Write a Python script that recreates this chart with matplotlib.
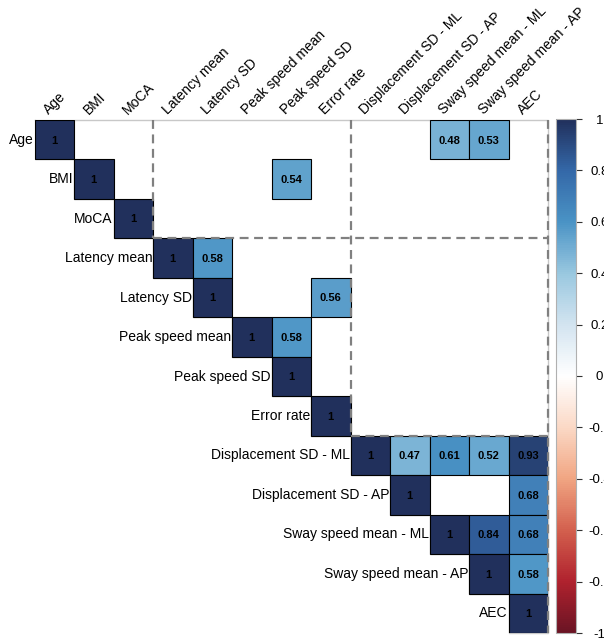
import numpy as np
import matplotlib
matplotlib.use("Agg")
import matplotlib.pyplot as plt
from matplotlib.colors import LinearSegmentedColormap, Normalize
from matplotlib.patches import Rectangle
from matplotlib.cm import ScalarMappable

plt.rcParams['font.family'] = ['Liberation Sans', 'DejaVu Sans']

labels = ["Age", "BMI", "MoCA", "Latency mean", "Latency SD", "Peak speed mean",
          "Peak speed SD", "Error rate", "Displacement SD - ML", "Displacement SD - AP",
          "Sway speed mean - ML", "Sway speed mean - AP", "AEC"]

# significant correlations in the upper triangle (row, col, r)
sig_rows = [0, 0, 1, 3, 4, 5, 8, 8, 8, 8, 9, 10, 10, 11]
sig_cols = [10, 11, 6, 4, 7, 6, 9, 10, 11, 12, 12, 11, 12, 12]
sig_vals = [0.48, 0.53, 0.54, 0.58, 0.56, 0.58, 0.47, 0.61, 0.52, 0.93, 0.68, 0.84, 0.68, 0.58]

# cluster boundaries (number of variables in each block)
blocks = [3, 5, 5]

cbar_ticks = [-1, -0.8, -0.6, -0.4, -0.2, 0, 0.2, 0.4, 0.6, 0.8, 1]

n = len(labels)
mat = np.full((n, n), np.nan)
for i in range(n):
    mat[i, i] = 1.0
for r, c, v in zip(sig_rows, sig_cols, sig_vals):
    mat[r, c] = v

# RdBu-like ramp, matched to the rendered tones of the reference
cmap = LinearSegmentedColormap.from_list(
    "rdbu", ["#6B1424", "#B0222E", "#D3604E", "#F1A683", "#FBD9C6", "#FFFFFF",
             "#D3E4F0", "#9AC8E0", "#4A93C5", "#3468A8", "#21305C"], N=256)
norm = Normalize(-1, 1)

W, H = 604, 639
fig = plt.figure(figsize=(W / 100, H / 100), dpi=100)
ax = fig.add_axes([34.5 / W, 6 / H, 513.5 / W, 513 / H])
ax.set_xlim(0, n)
ax.set_ylim(n, 0)
ax.axis("off")

# outline of the upper triangle
stair_x = [0, n, n]
stair_y = [0, 0, n]
for k in range(n, 0, -1):
    stair_x += [k - 1, k - 1]
    stair_y += [k, k - 1]
ax.plot(stair_x, stair_y, color="#c8c8c8", lw=1, zorder=1, clip_on=False)

for i in range(n):
    for j in range(i, n):
        v = mat[i, j]
        if np.isnan(v):
            continue
        ax.add_patch(Rectangle((j, i), 1, 1, facecolor=cmap(norm(v)),
                               edgecolor="black", lw=0.8, zorder=2))
        txt = "1" if v == 1 else f"{v:.2f}"
        ax.text(j + 0.5, i + 0.52, txt, ha="center", va="center",
                fontsize=8, fontweight="bold", color="black", zorder=3)

# row labels next to the diagonal, column labels on top
for i, lab in enumerate(labels):
    ax.text(i - 0.02, i + 0.5, lab, ha="right", va="center", fontsize=10)
    ax.text(i + 0.42, -0.07, lab, ha="left", va="bottom", rotation=45,
            rotation_mode="anchor", fontsize=10)

# dashed cluster rectangles
edges = np.cumsum([0] + blocks)
for a, b in zip(edges[:-1], edges[1:]):
    ax.plot([b, b], [0, b], color="#808080", lw=1.6, ls=(0, (4, 2.5)), zorder=4, clip_on=False)
    ax.plot([b, n], [b, b], color="#808080", lw=1.6, ls=(0, (4, 2.5)), zorder=4, clip_on=False)

# colour legend
cax = fig.add_axes([556 / W, 6 / H, 20 / W, 514 / H])
cb = fig.colorbar(ScalarMappable(norm=norm, cmap=cmap), cax=cax, ticks=cbar_ticks)
cb.outline.set_edgecolor("#b0b0b0")
cb.outline.set_linewidth(0.8)
cax.set_yticklabels([f"{t:g}" for t in cbar_ticks])
cax.tick_params(axis="y", length=4, width=0.8, color="#333333", pad=13, labelsize=9.5)
for t in cax.get_yticklabels():
    t.set_ha("center")

fig.savefig("out.png", dpi=100)
